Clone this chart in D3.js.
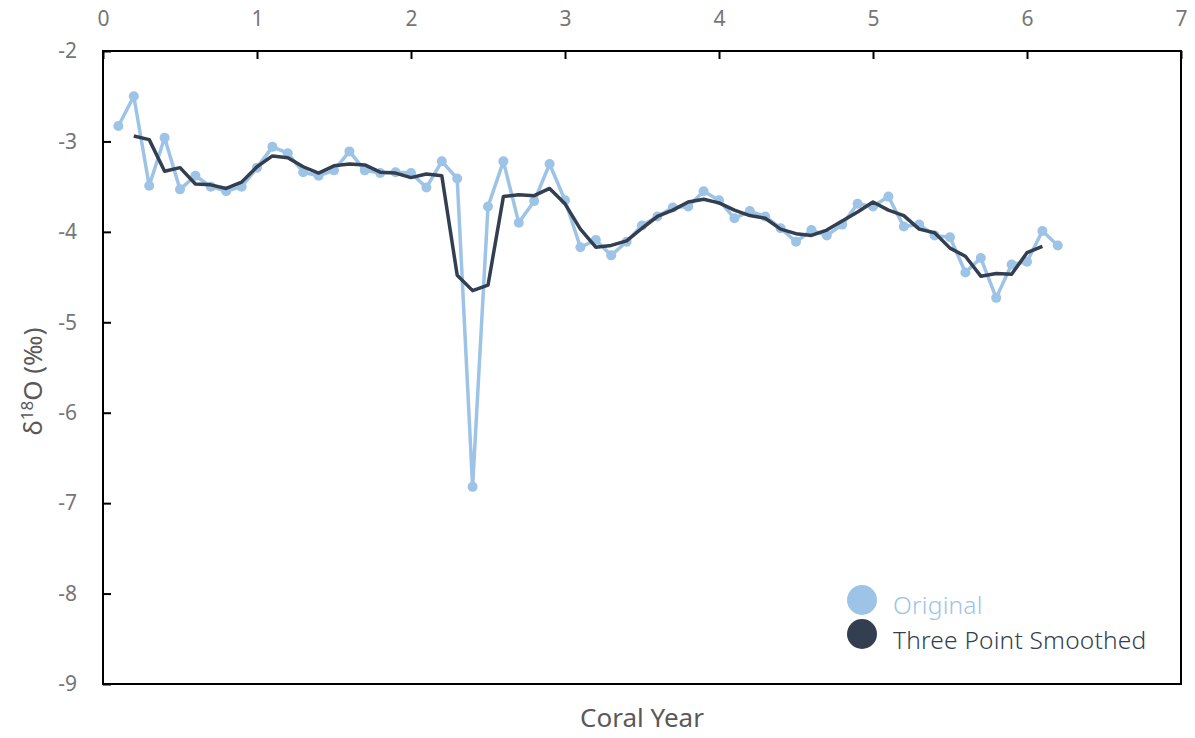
<!DOCTYPE html>
<html>
<head>
<meta charset="utf-8">
<script src="https://cdn.jsdelivr.net/npm/d3@7"></script>
<style>
  body { margin: 0; background: #fff; }
  text { font-family: "Noto Sans", "Open Sans", sans-serif; }
</style>
</head>
<body>
<script>
// coral years, every tenth of a year
const years = [0.1, 0.2, 0.3, 0.4, 0.5, 0.6, 0.7, 0.8, 0.9, 1.0,
    1.1, 1.2, 1.3, 1.4, 1.5, 1.6, 1.7, 1.8, 1.9, 2.0,
    2.1, 2.2, 2.3, 2.4, 2.5, 2.6, 2.7, 2.8, 2.9, 3.0,
    3.1, 3.2, 3.3, 3.4, 3.5, 3.6, 3.7, 3.8, 3.9, 4.0,
    4.1, 4.2, 4.3, 4.4, 4.5, 4.6, 4.7, 4.8, 4.9, 5.0,
    5.1, 5.2, 5.3, 5.4, 5.5, 5.6, 5.7, 5.8, 5.9, 6.0,
    6.1, 6.2];
const original = [-2.83, -2.50, -3.49, -2.96, -3.53, -3.38, -3.50, -3.55, -3.50, -3.29,
    -3.06, -3.13, -3.34, -3.38, -3.32, -3.11, -3.32, -3.35, -3.34, -3.35,
    -3.51, -3.22, -3.41, -6.82, -3.72, -3.22, -3.90, -3.66, -3.25, -3.65,
    -4.17, -4.09, -4.26, -4.11, -3.93, -3.83, -3.73, -3.72, -3.55, -3.65,
    -3.85, -3.77, -3.83, -3.96, -4.11, -3.98, -4.04, -3.92, -3.69, -3.72,
    -3.61, -3.94, -3.92, -4.04, -4.06, -4.45, -4.29, -4.73, -4.36, -4.33,
    -3.99, -4.15];
// smoothed series runs from 0.2 to 6.1
const smoothYears = years.slice(1, 61);
const smoothed = [-2.94, -2.98, -3.33, -3.29, -3.47, -3.48, -3.52, -3.45, -3.28,
    -3.16, -3.18, -3.28, -3.35, -3.27, -3.25, -3.26, -3.34, -3.35, -3.40,
    -3.36, -3.38, -4.48, -4.65, -4.59, -3.61, -3.59, -3.60, -3.52, -3.69,
    -3.97, -4.17, -4.15, -4.10, -3.96, -3.83, -3.76, -3.67, -3.64, -3.68,
    -3.76, -3.82, -3.85, -3.97, -4.02, -4.04, -3.98, -3.88, -3.78, -3.67,
    -3.76, -3.82, -3.97, -4.01, -4.18, -4.27, -4.49, -4.46, -4.47, -4.23,
    -4.16];
const xTicks = [0, 1, 2, 3, 4, 5, 6, 7];
const yTicks = [-2, -3, -4, -5, -6, -7, -8, -9];
const seriesNames = ['Original', 'Three Point Smoothed'];

const lightBlue = '#9dc3e6';
const darkBlue = '#333f50';

const width = 1195, height = 738;
const margin = { top: 51, right: 14, bottom: 54, left: 103 };

const svg = d3.select('body')
    .append('svg')
    .attr('width', width)
    .attr('height', height);

const x = d3.scaleLinear()
    .domain([0, 7])
    .range([margin.left, width - margin.right]);
const y = d3.scaleLinear()
    .domain([-2, -9])
    .range([margin.top, height - margin.bottom]);

// frame
svg.append('rect')
    .attr('x', x(0))
    .attr('y', y(-2))
    .attr('width', x(7) - x(0))
    .attr('height', y(-9) - y(-2))
    .attr('fill', 'none')
    .attr('stroke', '#000')
    .attr('stroke-width', 2);

// top axis, ticks pointing in
const xAxis = svg.append('g')
    .attr('transform', `translate(0,${y(-2)})`)
    .call(d3.axisTop(x).tickValues(xTicks).tickFormat(d3.format('d'))
        .tickSizeInner(-8).tickSizeOuter(0).tickPadding(25));
xAxis.select('.domain').remove();
xAxis.selectAll('line').attr('stroke', '#000').attr('stroke-width', 2);
xAxis.selectAll('text')
    .attr('fill', '#767676')
    .style('font-size', '21px');

// left axis, ticks pointing in
const yAxis = svg.append('g')
    .attr('transform', `translate(${x(0)},0)`)
    .call(d3.axisLeft(y).tickValues(yTicks).tickSizeInner(-8).tickSizeOuter(0).tickPadding(26)
        .tickFormat(d => '-' + Math.abs(d)));
yAxis.select('.domain').remove();
yAxis.selectAll('line').attr('stroke', '#000').attr('stroke-width', 2);
yAxis.selectAll('text')
    .attr('fill', '#767676')
    .style('font-size', '21px');

// axis titles
svg.append('text')
    .attr('x', (x(0) + x(7)) / 2)
    .attr('y', 727)
    .attr('text-anchor', 'middle')
    .attr('fill', '#595959')
    .style('font-size', '26px')
    .text('Coral Year');

const yTitle = svg.append('text')
    .attr('transform', `translate(42,${(y(-2) + y(-9)) / 2 + 14}) rotate(-90)`)
    .attr('text-anchor', 'middle')
    .attr('fill', '#595959')
    .style('font-size', '26px');
yTitle.append('tspan').text('δ');
yTitle.append('tspan').attr('dy', -9).style('font-size', '17px').text('18');
yTitle.append('tspan').attr('dy', 9).text('O (‰)');

// original series
const origData = years.map((d, i) => [d, original[i]]);
const line = d3.line().x(d => x(d[0])).y(d => y(d[1]));

svg.append('path')
    .datum(origData)
    .attr('d', line)
    .attr('fill', 'none')
    .attr('stroke', lightBlue)
    .attr('stroke-width', 3.5)
    .attr('stroke-linejoin', 'round');

svg.selectAll('.pt')
    .data(origData)
    .enter()
    .append('circle')
    .attr('class', 'pt')
    .attr('cx', d => x(d[0]))
    .attr('cy', d => y(d[1]))
    .attr('r', 5)
    .attr('fill', lightBlue);

// smoothed series
const smoothData = smoothYears.map((d, i) => [d, smoothed[i]]);
svg.append('path')
    .datum(smoothData)
    .attr('d', line)
    .attr('fill', 'none')
    .attr('stroke', darkBlue)
    .attr('stroke-width', 3.5)
    .attr('stroke-linejoin', 'round');

// legend
const legend = svg.append('g')
    .attr('transform', 'translate(862,600)');
const legendColors = [lightBlue, darkBlue];
seriesNames.forEach((name, i) => {
    legend.append('circle')
        .attr('cx', 0)
        .attr('cy', i * 34)
        .attr('r', 15)
        .attr('fill', legendColors[i]);
    legend.append('text')
        .attr('x', 31)
        .attr('y', i * 35 + 5)
        .attr('dy', '0.35em')
        .attr('fill', legendColors[i])
        .style('font-size', '24.5px')
        .style('font-weight', 300)
        .style('letter-spacing', '0.2px')
        .text(name);
});
</script>
</body>
</html>
